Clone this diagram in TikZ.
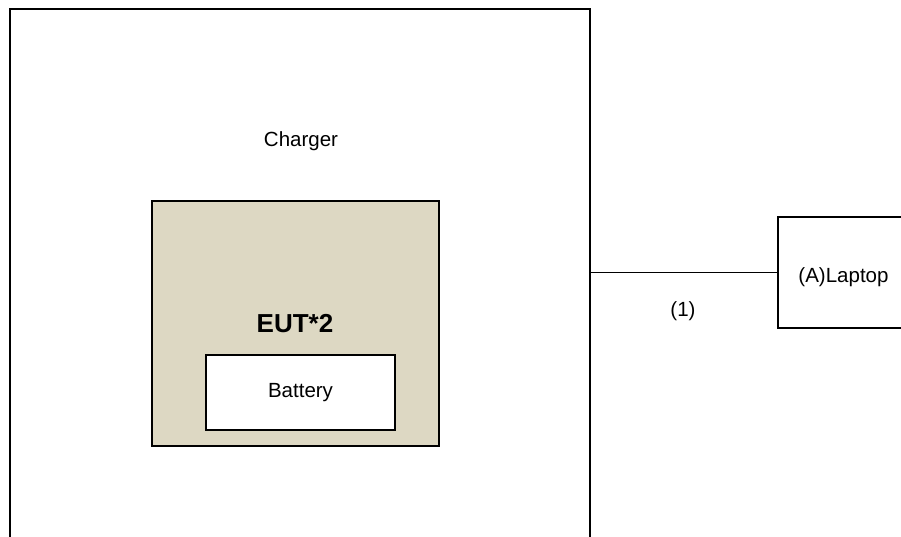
\documentclass[tikz,border=0pt]{standalone}
\usepackage{fontspec}
\setmainfont{Liberation Sans}
\usetikzlibrary{positioning}
\definecolor{euttan}{HTML}{DDD8C3}

\tikzset{
  unitbox/.style={draw, line width=2pt, inner sep=0pt},
  lbl/.style={font=\fontsize{20.5}{24}\selectfont, inner sep=0pt}
}

\begin{document}
\begin{tikzpicture}[x=1pt,y=1pt]
  \useasboundingbox (0,0) rectangle (901,536);
  % Charger enclosure
  \node[unitbox, minimum width=580pt, minimum height=537pt] (charger) at (300,258.5) {};
  \node[lbl] (chargerlbl) at (301,395) {Charger};

  % EUT with battery
  \node[unitbox, fill=euttan, minimum width=287pt, minimum height=245pt] (eut) at (295.5,212.5) {};
  \node[lbl, font=\fontsize{26}{30}\selectfont\bfseries] (eutlbl) at (295,212) {EUT*2};
  \node[unitbox, fill=white, minimum width=189pt, minimum height=75pt] (battery) at (300.5,143.5) {};
  \node[lbl] (batterylbl) at (battery) {Battery};

  % Laptop
  \node[unitbox, minimum width=132pt, minimum height=111pt] (laptop) at (844,263.5) {};
  \node[lbl] (laptoplbl) at (843.5,259) {(A)Laptop};

  % cable (1)
  \draw[line width=1pt] (laptop.west -| charger.east) -- (laptop.west);
  \node[lbl] (cable) at (683,225) {(1)};
\end{tikzpicture}
\end{document}
